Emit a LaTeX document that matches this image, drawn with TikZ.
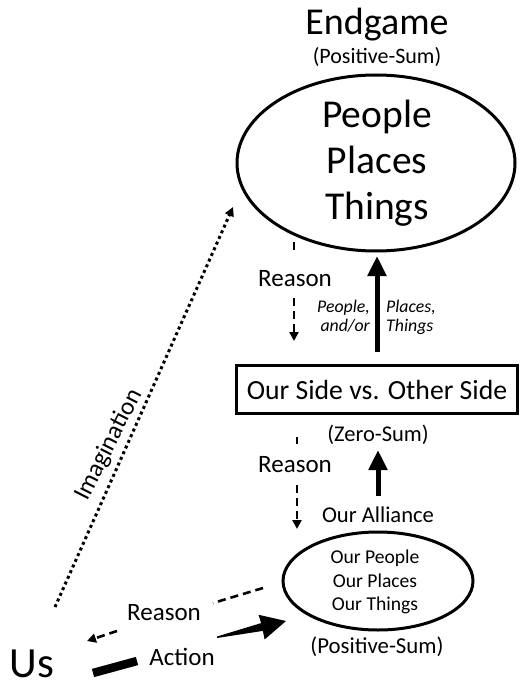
\documentclass[tikz,border=0pt]{standalone}
\usepackage{fontspec}
\setmainfont{Carlito}
\usetikzlibrary{arrows.meta,shapes.geometric}
\begin{document}
\begin{tikzpicture}[x=1pt,y=-1pt,
  txt/.style={inner sep=0pt, anchor=base},
  fs/.style={font=\fontsize{#1}{#1}\selectfont},
  fi/.style={font=\itshape\fontsize{#1}{#1}\selectfont},
  reason/.style={line width=2.6pt, dash pattern=on 8pt off 5pt, -{Triangle[width=9pt,length=9pt]}},
  reasonline/.style={line width=2.6pt, dash pattern=on 8pt off 5pt},
  bigup/.style={line width=5pt, -{Triangle[width=18pt,length=20pt]}},
  oval/.style={draw, ellipse, line width=3pt, inner sep=0pt},
]
\useasboundingbox (0,0) rectangle (528,695);
% top
\node[txt, fs=38] (endgame) at (377,35) {Endgame};
\node[txt, fs=22] (ps1) at (377,64) {(Positive-Sum)};
\node[oval, minimum width=278pt, minimum height=176pt] (big) at (376,163) {};
\node[txt, fs=39.5] (people) at (377,128) {People};
\node[txt, fs=39.5] (places) at (377,173) {Places};
\node[txt, fs=39.5] (things) at (377,219) {Things};
% middle box
\node[draw, line width=3pt, minimum width=281pt, minimum height=48pt, inner sep=0pt] (box) at (377,389) {};
\node[txt, fs=27.7] (boxt) at (377,399) {Our Side vs. Other Side};
\node[txt, fs=22.5] (zs) at (378,441) {(Zero-Sum)};
% reason 1
\coordinate (r1a) at (294,242);
\coordinate (r1b) at (294,341);
\node[txt, fs=25] (reason1) at (295,286) {Reason};
\draw[reasonline] (r1a) -- (294,253);
\draw[reason] (294,298) -- (r1b);
% up arrow 1
\coordinate (u1a) at (377,352);
\coordinate (u1b) at (377,256);
\draw[bigup] (u1a) -- (u1b);
\node[txt, fi=17.8, anchor=base east] (pp) at (370,312) {People,};
\node[txt, fi=17.8, anchor=base east] (ao) at (370,331) {and/or};
\node[txt, fi=17.8, anchor=base west] (pl) at (386,312) {Places,};
\node[txt, fi=17.8, anchor=base west] (th) at (386,331) {Things};
% reason 2
\node[txt, fs=25] (reason2) at (295,472) {Reason};
\draw[reasonline] (297,437) -- (297,444);
\draw[reason] (297,485) -- (297,529);
% up arrow 2
\draw[bigup] (378,496) -- (378,450);
\node[txt, fs=22.6] (ally) at (378,522) {Our Alliance};
% small ellipse
\node[oval, minimum width=190pt, minimum height=98pt] (small) at (378,581) {};
\node[txt, fs=19.6] (op) at (375,563) {Our People};
\node[txt, fs=19.6] (opl) at (375,587) {Our Places};
\node[txt, fs=19.6] (oth) at (375,610) {Our Things};
\node[txt, fs=22.8] (ps2) at (377,653) {(Positive-Sum)};
% Us
\node[txt, fs=43] (us) at (32,677) {Us};
% imagination
\coordinate (ima) at (55,607);
\coordinate (imb) at (233,207);
\draw[line width=3pt, dash pattern=on 3pt off 3.2pt, -{Triangle[width=9pt,length=9pt]}] (ima) -- (imb);
\node[fs=25, rotate=63, inner sep=0pt] (imag) at (109,445) {Imagination};
% reason bottom
\coordinate (rba) at (263,588);
\coordinate (rbb) at (87,641);
\node[txt, fs=25] (reason3) at (164,620) {Reason};
\draw[reasonline] (rba) -- (213,603);
\draw[reason] (117,631) -- (rbb);
% action
\node[txt, fs=25] (action) at (182,665) {Action};
\draw[line width=8.5pt] (93,673) -- (137,661);
\fill (217,638) -- (262.9,630.9) -- (264.6,639.5) -- (286,621) -- (258.6,614.8) -- (261.1,623.1) -- (217,636.5) -- cycle;
\end{tikzpicture}
\end{document}
